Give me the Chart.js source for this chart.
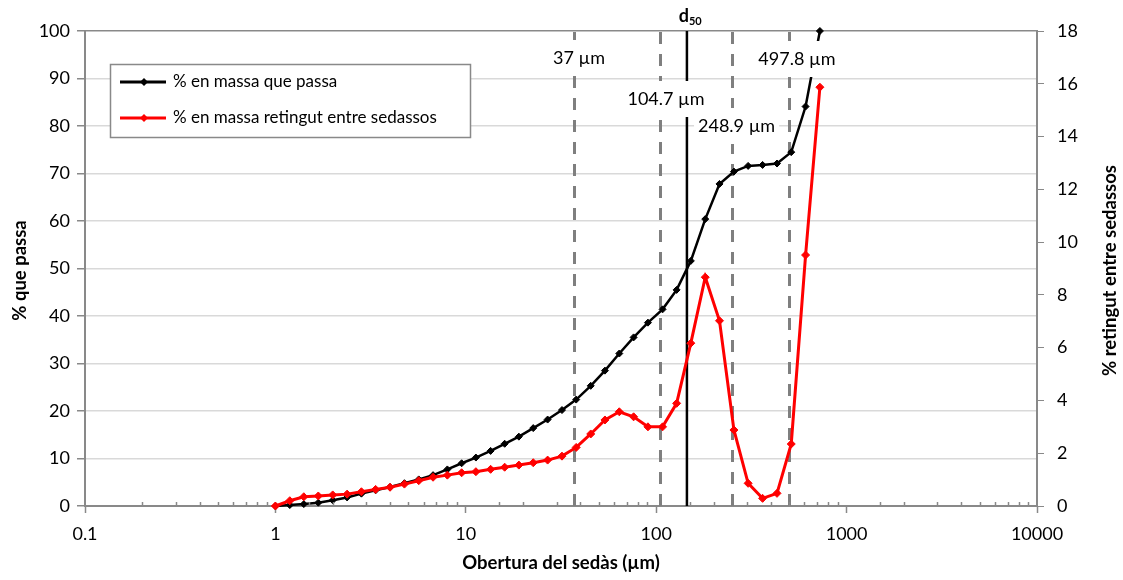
<!DOCTYPE html>
<html>
<head>
<meta charset="utf-8">
<script src="https://cdn.jsdelivr.net/npm/chart.js@4.4.1/dist/chart.umd.min.js"></script>
<style>
  html, body { margin: 0; padding: 0; background: #fff; }
  #wrap { width: 1123px; height: 580px; }
</style>
</head>
<body>
<div id="wrap"><canvas id="chart"></canvas></div>
<script>
// sieve openings (µm) and the two curves read per sieve
const sieveSizes = [1, 1.19, 1.41, 1.68, 2, 2.38, 2.83, 3.36, 4, 4.76, 5.66, 6.73, 8, 9.51, 11.3, 13.5, 16, 19, 22.6, 26.9,
  32, 38, 45.3, 53.8, 64, 76.1, 90.5, 108, 128, 152, 181, 215, 256, 304, 362, 431, 512, 609, 724];
const passing = [0, 0.2, 0.4, 0.7, 1.2, 1.8, 2.6, 3.3, 4.0, 4.8, 5.6, 6.5, 7.7, 9.0, 10.2, 11.6, 13.1, 14.6, 16.4, 18.2,
  20.2, 22.4, 25.3, 28.5, 32.1, 35.5, 38.6, 41.4, 45.5, 51.6, 60.4, 67.8, 70.4, 71.6, 71.8, 72.1, 74.5, 84.1, 100];
const retained = [0, 0.2, 0.35, 0.38, 0.42, 0.45, 0.54, 0.63, 0.71, 0.83, 0.96, 1.09, 1.17, 1.26, 1.30, 1.39, 1.47, 1.55, 1.64, 1.74,
  1.89, 2.22, 2.73, 3.26, 3.57, 3.38, 3.0, 3.0, 3.89, 6.17, 8.67, 7.02, 2.88, 0.86, 0.29, 0.48, 2.35, 9.51, 15.87];

const seriesNames = ['% en massa que passa', '% en massa retingut entre sedassos'];
const seriesColors = ['#000000', '#ff0000'];

// characteristic diameters
const markLines = [37, 104.7, 248.9, 497.8];
const markLabels = ['37 µm', '104.7 µm', '248.9 µm', '497.8 µm'];
const d50 = 145;

const FONT = 'Lato, "Open Sans", sans-serif';
const AXIS_GRAY = '#898989';

const isDecade = v => Math.abs(Math.log10(v) - Math.round(Math.log10(v))) < 1e-6;

const refLines = {
  id: 'refLines',
  beforeDatasetsDraw(chart) {
    const { ctx, chartArea: a, scales: { x } } = chart;
    ctx.save();
    ctx.strokeStyle = '#7f7f7f';
    ctx.lineWidth = 3;
    ctx.setLineDash([12, 10]);
    markLines.forEach(v => {
      const px = Math.round(x.getPixelForValue(v)) + 0.5;
      ctx.beginPath();
      ctx.moveTo(px, a.bottom);
      ctx.lineTo(px, a.top);
      ctx.stroke();
    });
    ctx.setLineDash([]);
    ctx.strokeStyle = '#000';
    ctx.lineWidth = 2.5;
    const dx = x.getPixelForValue(d50);
    ctx.beginPath();
    ctx.moveTo(dx, a.bottom);
    ctx.lineTo(dx, a.top);
    ctx.stroke();
    ctx.restore();
  },
  afterDatasetsDraw(chart) {
    const { ctx, chartArea: a, scales: { x } } = chart;
    ctx.save();
    ctx.font = '18px ' + FONT;
    ctx.textAlign = 'center';
    ctx.textBaseline = 'middle';
    // label anchor: pixel offset from its line, and y position
    const place = [[5, 58], [6, 99], [5, 126], [8, 59]];
    markLabels.forEach((t, i) => {
      const cx = x.getPixelForValue(markLines[i]) + place[i][0];
      const cy = place[i][1];
      const w = ctx.measureText(t).width + 8;
      ctx.fillStyle = '#fff';
      ctx.fillRect(cx - w / 2, cy - 18, w, 36);
      ctx.fillStyle = '#000';
      ctx.fillText(t, cx, cy);
    });
    // d50 caption above the plot
    const dx = x.getPixelForValue(d50);
    ctx.font = 'bold 18px ' + FONT;
    ctx.textAlign = 'right';
    ctx.fillText('d', dx + 2, 16);
    ctx.font = 'bold 11px ' + FONT;
    ctx.textAlign = 'left';
    ctx.fillText('50', dx + 2, 21);

    // minor ticks of the log axis point into the plot
    ctx.strokeStyle = AXIS_GRAY;
    ctx.lineWidth = 1.5;
    x.ticks.forEach(t => {
      if (isDecade(t.value)) return;
      const px = Math.round(x.getPixelForValue(t.value)) + 0.5;
      ctx.beginPath();
      ctx.moveTo(px, a.bottom);
      ctx.lineTo(px, a.bottom - 4);
      ctx.stroke();
    });
    ctx.restore();
  },
  afterDraw(chart) {
    const { ctx, chartArea: a } = chart;
    ctx.save();
    // legend box
    ctx.fillStyle = '#fff';
    ctx.fillRect(110, 64, 360, 73);
    ctx.strokeStyle = AXIS_GRAY;
    ctx.lineWidth = 1.5;
    ctx.strokeRect(110.5, 64.5, 360, 73);
    ctx.font = '17px ' + FONT;
    ctx.textBaseline = 'middle';
    ctx.textAlign = 'left';
    [82, 118].forEach((y, i) => {
      ctx.strokeStyle = seriesColors[i];
      ctx.fillStyle = seriesColors[i];
      ctx.lineWidth = 3;
      ctx.beginPath();
      ctx.moveTo(120, y);
      ctx.lineTo(166, y);
      ctx.stroke();
      ctx.beginPath();
      ctx.moveTo(144, y - 4);
      ctx.lineTo(148, y);
      ctx.lineTo(144, y + 4);
      ctx.lineTo(140, y);
      ctx.closePath();
      ctx.fill();
      ctx.fillStyle = '#000';
      ctx.fillText(seriesNames[i], 173, y);
    });

    // axis titles
    ctx.font = 'bold 18.5px ' + FONT;
    ctx.textAlign = 'center';
    ctx.fillText('Obertura del sedàs (µm)', (a.left + a.right) / 2, 563);
    const midY = (a.top + a.bottom) / 2 + 2;
    ctx.translate(20, midY);
    ctx.rotate(-Math.PI / 2);
    ctx.fillText('% que passa', 0, 0);
    ctx.rotate(Math.PI / 2);
    ctx.translate(1110 - 20, 0);
    ctx.rotate(-Math.PI / 2);
    ctx.fillText('% retingut entre sedassos', 0, 0);
    ctx.restore();
  }
};

const toPoints = vals => vals.map((v, i) => ({ x: sieveSizes[i], y: v }));

new Chart(document.getElementById('chart'), {
  type: 'line',
  data: {
    datasets: [
      {
        label: seriesNames[0],
        data: toPoints(passing),
        yAxisID: 'y',
        borderColor: seriesColors[0],
        backgroundColor: seriesColors[0],
        borderWidth: 2.5,
        pointStyle: 'rectRot',
        pointRadius: 3.5,
        pointBorderWidth: 1,
        order: 1,
        clip: false
      },
      {
        label: seriesNames[1],
        data: toPoints(retained),
        yAxisID: 'y1',
        borderColor: seriesColors[1],
        backgroundColor: seriesColors[1],
        borderWidth: 3,
        pointStyle: 'rectRot',
        pointRadius: 4,
        pointBorderWidth: 1,
        order: 0,
        clip: false
      }
    ]
  },
  options: {
    responsive: true,
    maintainAspectRatio: false,
    animation: false,
    layout: { padding: { top: 31, left: 0, right: 0, bottom: 0 } },
    plugins: { legend: { display: false }, tooltip: { enabled: false } },
    scales: {
      x: {
        type: 'logarithmic',
        position: 'bottom',
        min: 0.1,
        max: 10000,
        afterFit: s => { s.height = 74; },
        border: { color: AXIS_GRAY, width: 2 },
        grid: {
          drawOnChartArea: false,
          tickLength: 7,
          tickWidth: 1.5,
          tickColor: c => (c.tick && isDecade(c.tick.value)) ? AXIS_GRAY : 'rgba(0,0,0,0)'
        },
        ticks: {
          autoSkip: false,
          maxRotation: 0,
          padding: 10,
          color: '#000',
          font: { family: FONT, size: 18 },
          callback: v => isDecade(v) ? String(Number(v)) : ''
        }
      },
      y: {
        position: 'left',
        min: 0,
        max: 100,
        afterFit: s => { s.width = 85; },
        border: { color: AXIS_GRAY, width: 2 },
        grid: {
          color: c => c.tick.value === 100 ? AXIS_GRAY : '#d9d9d9',
          lineWidth: 1.5,
          tickColor: AXIS_GRAY,
          tickLength: 8
        },
        ticks: { stepSize: 10, padding: 7, color: '#000', font: { family: FONT, size: 18 } }
      },
      y1: {
        position: 'right',
        min: 0,
        max: 18,
        afterFit: s => { s.width = 86; },
        border: { color: AXIS_GRAY, width: 2 },
        grid: { drawOnChartArea: false, tickColor: AXIS_GRAY, tickLength: 7 },
        ticks: { stepSize: 2, padding: 13, color: '#000', font: { family: FONT, size: 18 } }
      }
    }
  },
  plugins: [refLines]
});
</script>
</body>
</html>
